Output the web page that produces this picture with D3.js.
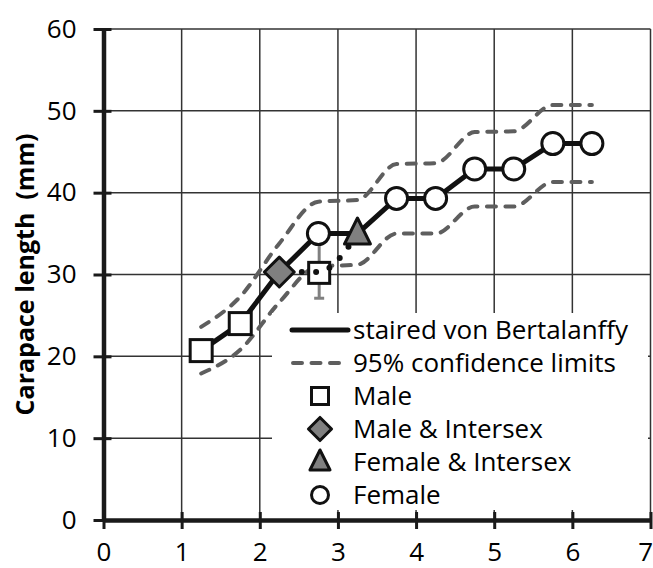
<!DOCTYPE html>
<html>
<meta charset="utf-8">
<head>
<style>
    body { margin: 0; background: #fff; overflow: hidden; }
    svg { display: block; }
    text { font-family: "Open Sans", sans-serif; fill: #000; }
    .grid line { stroke: #333; stroke-width: 1.5px; }
    .axis path { stroke: #1a1a1a; stroke-width: 4.5px; }
    .axis line { stroke: #1a1a1a; stroke-width: 3px; }
    .axis text { font-size: 26px; }
    .ytitle { font-size: 25px; font-weight: bold; white-space: pre; }
    .legend text { font-size: 26px; }
</style>
</head>
<body>
<div id="chart"></div>
<script src="https://cdn.jsdelivr.net/npm/d3@7"></script>
<script>
// staired growth curve, one value per half-year age class
const ages = [1.25, 1.75, 2.25, 2.75, 3.25, 3.75, 4.25, 4.75, 5.25, 5.75, 6.25];
const fitted = [20.7, 24.0, 30.3, 35.0, 35.0, 39.3, 39.3, 42.9, 42.9, 46.0, 46.0];
const groups = ["Male", "Male", "Male & Intersex", "Female", "Female & Intersex",
    "Female", "Female", "Female", "Female", "Female", "Female"];
const upper95 = [23.6, 27.3, 33.8, 38.9, 39.1, 43.5, 43.6, 47.4, 47.5, 50.7, 50.7];
const lower95 = [17.9, 20.8, 26.6, 31.0, 31.2, 35.0, 35.0, 38.3, 38.3, 41.3, 41.3];

// separate male observation with error bar
const maleObsAge = [2.76];
const maleObsMean = [30.2];
const maleObsLow = [27.1];
const maleObsHigh = [34.0];

// dotted alternative path
const altAges = [2.25, 2.75, 3.25];
const altLength = [30.3, 30.3, 35.0];

const xTicks = [0, 1, 2, 3, 4, 5, 6, 7];
const yTicks = [0, 10, 20, 30, 40, 50, 60];
const legendItems = ["staired von Bertalanffy", "95% confidence limits", "Male",
    "Male & Intersex", "Female & Intersex", "Female"];

const width = 653;
const height = 568;

const x = d3.scaleLinear().domain([0, 7]).range([103.5, 650.5]);
const y = d3.scaleLinear().domain([0, 60]).range([520, 29]);

const svg = d3.select("#chart").append("svg")
    .attr("width", width)
    .attr("height", height);

// grid
const grid = svg.append("g").attr("class", "grid");
grid.selectAll(".vg").data(xTicks.slice(1)).enter().append("line")
    .attr("x1", d => x(d)).attr("x2", d => x(d))
    .attr("y1", y(0)).attr("y2", y(60));
grid.selectAll(".hg").data(yTicks.slice(1)).enter().append("line")
    .attr("x1", x(0)).attr("x2", x(7))
    .attr("y1", d => y(d)).attr("y2", d => y(d));

// confidence limits
const ciLine = d3.line().curve(d3.curveMonotoneX)
    .x(d => x(d[0])).y(d => y(d[1]));
[upper95, lower95].forEach(arr => {
    svg.append("path")
        .datum(ages.map((a, i) => [a, arr[i]]))
        .attr("d", ciLine)
        .attr("fill", "none")
        .attr("stroke", "#5e5e5e")
        .attr("stroke-width", 4)
        .attr("stroke-linecap", "round")
        .attr("stroke-dasharray", "9 9.5");
});

// legend box (hides grid behind it)
const legend = svg.append("g").attr("class", "legend");
legend.append("rect")
    .attr("x", 272).attr("y", 313)
    .attr("width", 376).attr("height", 197)
    .attr("fill", "#fff");

// male observation error bar + square
maleObsAge.forEach((a, i) => {
    svg.append("line")
        .attr("x1", x(a)).attr("x2", x(a))
        .attr("y1", y(maleObsLow[i])).attr("y2", y(maleObsHigh[i]))
        .attr("stroke", "#808080").attr("stroke-width", 3);
    [maleObsLow[i], maleObsHigh[i]].forEach(v => {
        svg.append("line")
            .attr("x1", x(a) - 5).attr("x2", x(a) + 5)
            .attr("y1", y(v)).attr("y2", y(v))
            .attr("stroke", "#808080").attr("stroke-width", 3);
    });
    svg.append("rect")
        .attr("x", x(a) - 10.5).attr("y", y(maleObsMean[i]) - 10.5)
        .attr("width", 21).attr("height", 21)
        .attr("fill", "#fff").attr("stroke", "#111").attr("stroke-width", 3);
});

// dotted path
svg.append("path")
    .datum(altAges.map((a, i) => [a, altLength[i]]))
    .attr("d", ciLine)
    .attr("fill", "none")
    .attr("stroke", "#111")
    .attr("stroke-width", 6)
    .attr("stroke-linecap", "round")
    .attr("stroke-dasharray", "0 14.3")
    .attr("stroke-dashoffset", 6.1);

// staired curve
svg.append("path")
    .datum(ages.map((a, i) => [a, fitted[i]]))
    .attr("d", d3.line().x(d => x(d[0])).y(d => y(d[1])))
    .attr("fill", "none")
    .attr("stroke", "#111")
    .attr("stroke-width", 5)
    .attr("stroke-linejoin", "round");

function drawMarker(g, kind, cx, cy, s) {
    if (kind === "Male") {
        g.append("rect")
            .attr("x", cx - s / 2).attr("y", cy - s / 2)
            .attr("width", s).attr("height", s)
            .attr("fill", "#fff").attr("stroke", "#111").attr("stroke-width", 3);
    } else if (kind === "Male & Intersex") {
        const r = s * 0.68;
        g.append("path")
            .attr("d", `M${cx},${cy - r}L${cx + r},${cy}L${cx},${cy + r}L${cx - r},${cy}Z`)
            .attr("fill", "#808080").attr("stroke", "#111").attr("stroke-width", 3)
            .attr("stroke-linejoin", "round");
    } else if (kind === "Female & Intersex") {
        const h = s * 1.18;
        g.append("path")
            .attr("d", `M${cx},${cy - h * 0.6}L${cx + h / 2},${cy + h * 0.4}L${cx - h / 2},${cy + h * 0.4}Z`)
            .attr("fill", "#808080").attr("stroke", "#111").attr("stroke-width", 3)
            .attr("stroke-linejoin", "round");
    } else {
        g.append("circle")
            .attr("cx", cx).attr("cy", cy).attr("r", s / 2)
            .attr("fill", "#fff").attr("stroke", "#111").attr("stroke-width", 3);
    }
}

const markers = svg.append("g");
ages.forEach((a, i) => drawMarker(markers, groups[i], x(a), y(fitted[i]), 22));

// axes
const yAxis = svg.append("g").attr("class", "axis")
    .attr("transform", `translate(${x(0)},0)`)
    .call(d3.axisLeft(y).tickValues(yTicks).tickFormat(d3.format("d"))
        .tickSizeInner(10).tickSizeOuter(0));
yAxis.selectAll(".tick line").attr("x1", 8);
yAxis.selectAll(".tick text").attr("x", -27);

const xAxis = svg.append("g").attr("class", "axis")
    .attr("transform", `translate(0,${y(0)})`)
    .call(d3.axisBottom(x).tickValues(xTicks).tickFormat(d3.format("d"))
        .tickSizeInner(9).tickSizeOuter(0));
xAxis.selectAll(".tick line").attr("y1", -8);
xAxis.selectAll(".tick text").attr("y", 23);
// last label sits at the right edge, keep it inside the page
xAxis.selectAll(".tick text").filter(d => d === 7)
    .attr("text-anchor", "end").attr("x", 2);

svg.selectAll(".axis path").attr("stroke", "#1a1a1a");
svg.selectAll(".axis text").attr("fill", "#000");

// y title
svg.append("text")
    .attr("class", "ytitle")
    .attr("transform", `translate(25,${(y(0) + y(60)) / 2}) rotate(-90)`)
    .attr("text-anchor", "middle")
    .attr("dy", "0.35em")
    .text("Carapace length  (mm)");

// legend entries
const rowY = d3.scaleLinear().domain([0, 5]).range([330, 495]);
legendItems.forEach((name, i) => {
    const ly = rowY(i);
    if (i === 0) {
        legend.append("line")
            .attr("x1", 292).attr("x2", 348).attr("y1", ly).attr("y2", ly)
            .attr("stroke", "#111").attr("stroke-width", 5).attr("stroke-linecap", "round");
    } else if (i === 1) {
        legend.append("line")
            .attr("x1", 293).attr("x2", 343).attr("y1", ly).attr("y2", ly)
            .attr("stroke", "#5e5e5e").attr("stroke-width", 4)
            .attr("stroke-linecap", "round").attr("stroke-dasharray", "9 9.5");
    } else {
        drawMarker(legend, name, 320, ly, 17);
    }
    legend.append("text")
        .attr("x", 353).attr("y", ly)
        .attr("dy", "0.35em")
        .text(name);
});
</script>
</body>
</html>
